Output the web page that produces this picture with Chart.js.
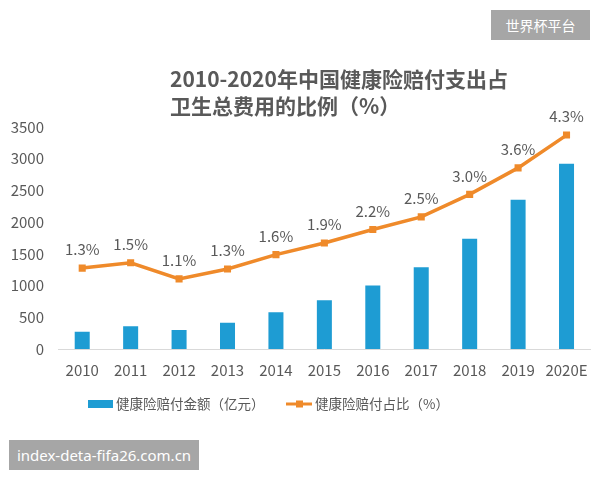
<!DOCTYPE html>
<html>
<head>
<meta charset="utf-8">
<script src="https://cdn.jsdelivr.net/npm/chart.js@4/dist/chart.umd.min.js"></script>
<style>
  html, body { margin: 0; padding: 0; background: #fff; }
  #wrap { position: relative; width: 600px; height: 480px; overflow: hidden; }
  #c { position: absolute; left: 0; top: 0; }
  .title { position: absolute; left: 170px; top: 65px; font: bold 21px "Noto Sans CJK SC", "Noto Sans", sans-serif; color: #595959; line-height: 27px; white-space: nowrap; }
  .wm1 { position: absolute; left: 491px; top: 10px; width: 99px; height: 30px; background: #a6a6a6; color: #fff; font: 14px "Noto Sans CJK SC", sans-serif; line-height: 30px; text-align: center; }
  .wm2 { position: absolute; left: 9px; top: 440px; width: 190px; height: 30px; background: #a6a6a6; color: #fff; font: 15px "Noto Sans", "DejaVu Sans", sans-serif; line-height: 30px; text-align: center; }
</style>
</head>
<body>
<div id="wrap">
  <canvas id="c" width="600" height="480"></canvas>
  <div class="title">2010-2020年中国健康险赔付支出占<br>卫生总费用的比例（%）</div>
  <div class="wm1">世界杯平台</div>
  <div class="wm2">index-deta-fifa26.com.cn</div>
</div>
<script>
const categories = ['2010','2011','2012','2013','2014','2015','2016','2017','2018','2019','2020E'];
const payoutAmount = [270, 360, 300, 415, 580, 770, 1000, 1290, 1740, 2355, 2920];
const payoutShare = [1.34, 1.46, 1.10, 1.32, 1.64, 1.90, 2.20, 2.48, 2.98, 3.57, 4.30];
const yTicks = [0, 500, 1000, 1500, 2000, 2500, 3000, 3500];
const seriesNames = ['健康险赔付金额（亿元）', '健康险赔付占比（%）'];

const BLUE = '#1E9CD3';
const ORANGE = '#EF8A2A';
const GRAY = '#595959';
const FONT = '"Noto Sans CJK SC", "Noto Sans", sans-serif';

const labelPlugin = {
  id: 'pctLabels',
  afterDatasetsDraw(chart) {
    const ctx = chart.ctx;
    const meta = chart.getDatasetMeta(1);
    ctx.save();
    ctx.font = '15px ' + FONT;
    ctx.fillStyle = GRAY;
    ctx.textAlign = 'center';
    ctx.textBaseline = 'bottom';
    meta.data.forEach((pt, i) => {
      ctx.fillText(payoutShare[i].toFixed(1) + '%', pt.x, pt.y - 11);
    });
    ctx.restore();
  }
};

const legendPlugin = {
  id: 'customLegend',
  afterDraw(chart) {
    const ctx = chart.ctx;
    const y = 404;
    ctx.save();
    ctx.font = '13.5px ' + FONT;
    ctx.textBaseline = 'middle';
    ctx.fillStyle = BLUE;
    ctx.fillRect(88, y - 4, 25, 8);
    ctx.fillStyle = GRAY;
    ctx.textAlign = 'left';
    ctx.fillText(seriesNames[0], 116, y);
    ctx.strokeStyle = ORANGE;
    ctx.lineWidth = 3;
    ctx.beginPath();
    ctx.moveTo(286, y);
    ctx.lineTo(312, y);
    ctx.stroke();
    ctx.fillStyle = ORANGE;
    ctx.fillRect(296, y - 3.5, 7, 7);
    ctx.fillStyle = GRAY;
    ctx.fillText(seriesNames[1], 315, y);
    ctx.restore();
  }
};

new Chart(document.getElementById('c'), {
  data: {
    labels: categories,
    datasets: [
      {
        type: 'bar',
        label: seriesNames[0],
        data: payoutAmount,
        backgroundColor: BLUE,
        yAxisID: 'y',
        barPercentage: 0.62,
        categoryPercentage: 0.5,
        order: 2
      },
      {
        type: 'line',
        label: seriesNames[1],
        data: payoutShare,
        borderColor: ORANGE,
        backgroundColor: ORANGE,
        borderWidth: 3.5,
        pointStyle: 'rect',
        pointRadius: 5,
        pointBackgroundColor: ORANGE,
        pointBorderWidth: 0,
        tension: 0,
        yAxisID: 'y1',
        order: 1
      }
    ]
  },
  options: {
    responsive: false,
    animation: false,
    layout: { padding: { left: 8, right: 9, top: 127, bottom: 89 } },
    plugins: {
      legend: { display: false },
      tooltip: { enabled: false },
      title: { display: false }
    },
    scales: {
      x: {
        grid: { display: false, drawTicks: false },
        border: { display: true, color: '#d9d9d9', width: 1 },
        ticks: { color: GRAY, font: { size: 15, family: FONT }, padding: 12, maxRotation: 0, autoSkip: false }
      },
      y: {
        position: 'left',
        min: 0,
        max: 3500,
        afterBuildTicks(axis) { axis.ticks = yTicks.map(v => ({ value: v })); },
        afterFit(axis) { axis.width = 50; },
        grid: { display: false, drawTicks: false },
        border: { display: false },
        ticks: { color: GRAY, font: { size: 15, family: FONT }, padding: 14, callback: (v) => String(v) }
      },
      y1: {
        display: false,
        min: -0.46,
        max: 4.48
      }
    }
  },
  plugins: [labelPlugin, legendPlugin]
});
</script>
</body>
</html>
